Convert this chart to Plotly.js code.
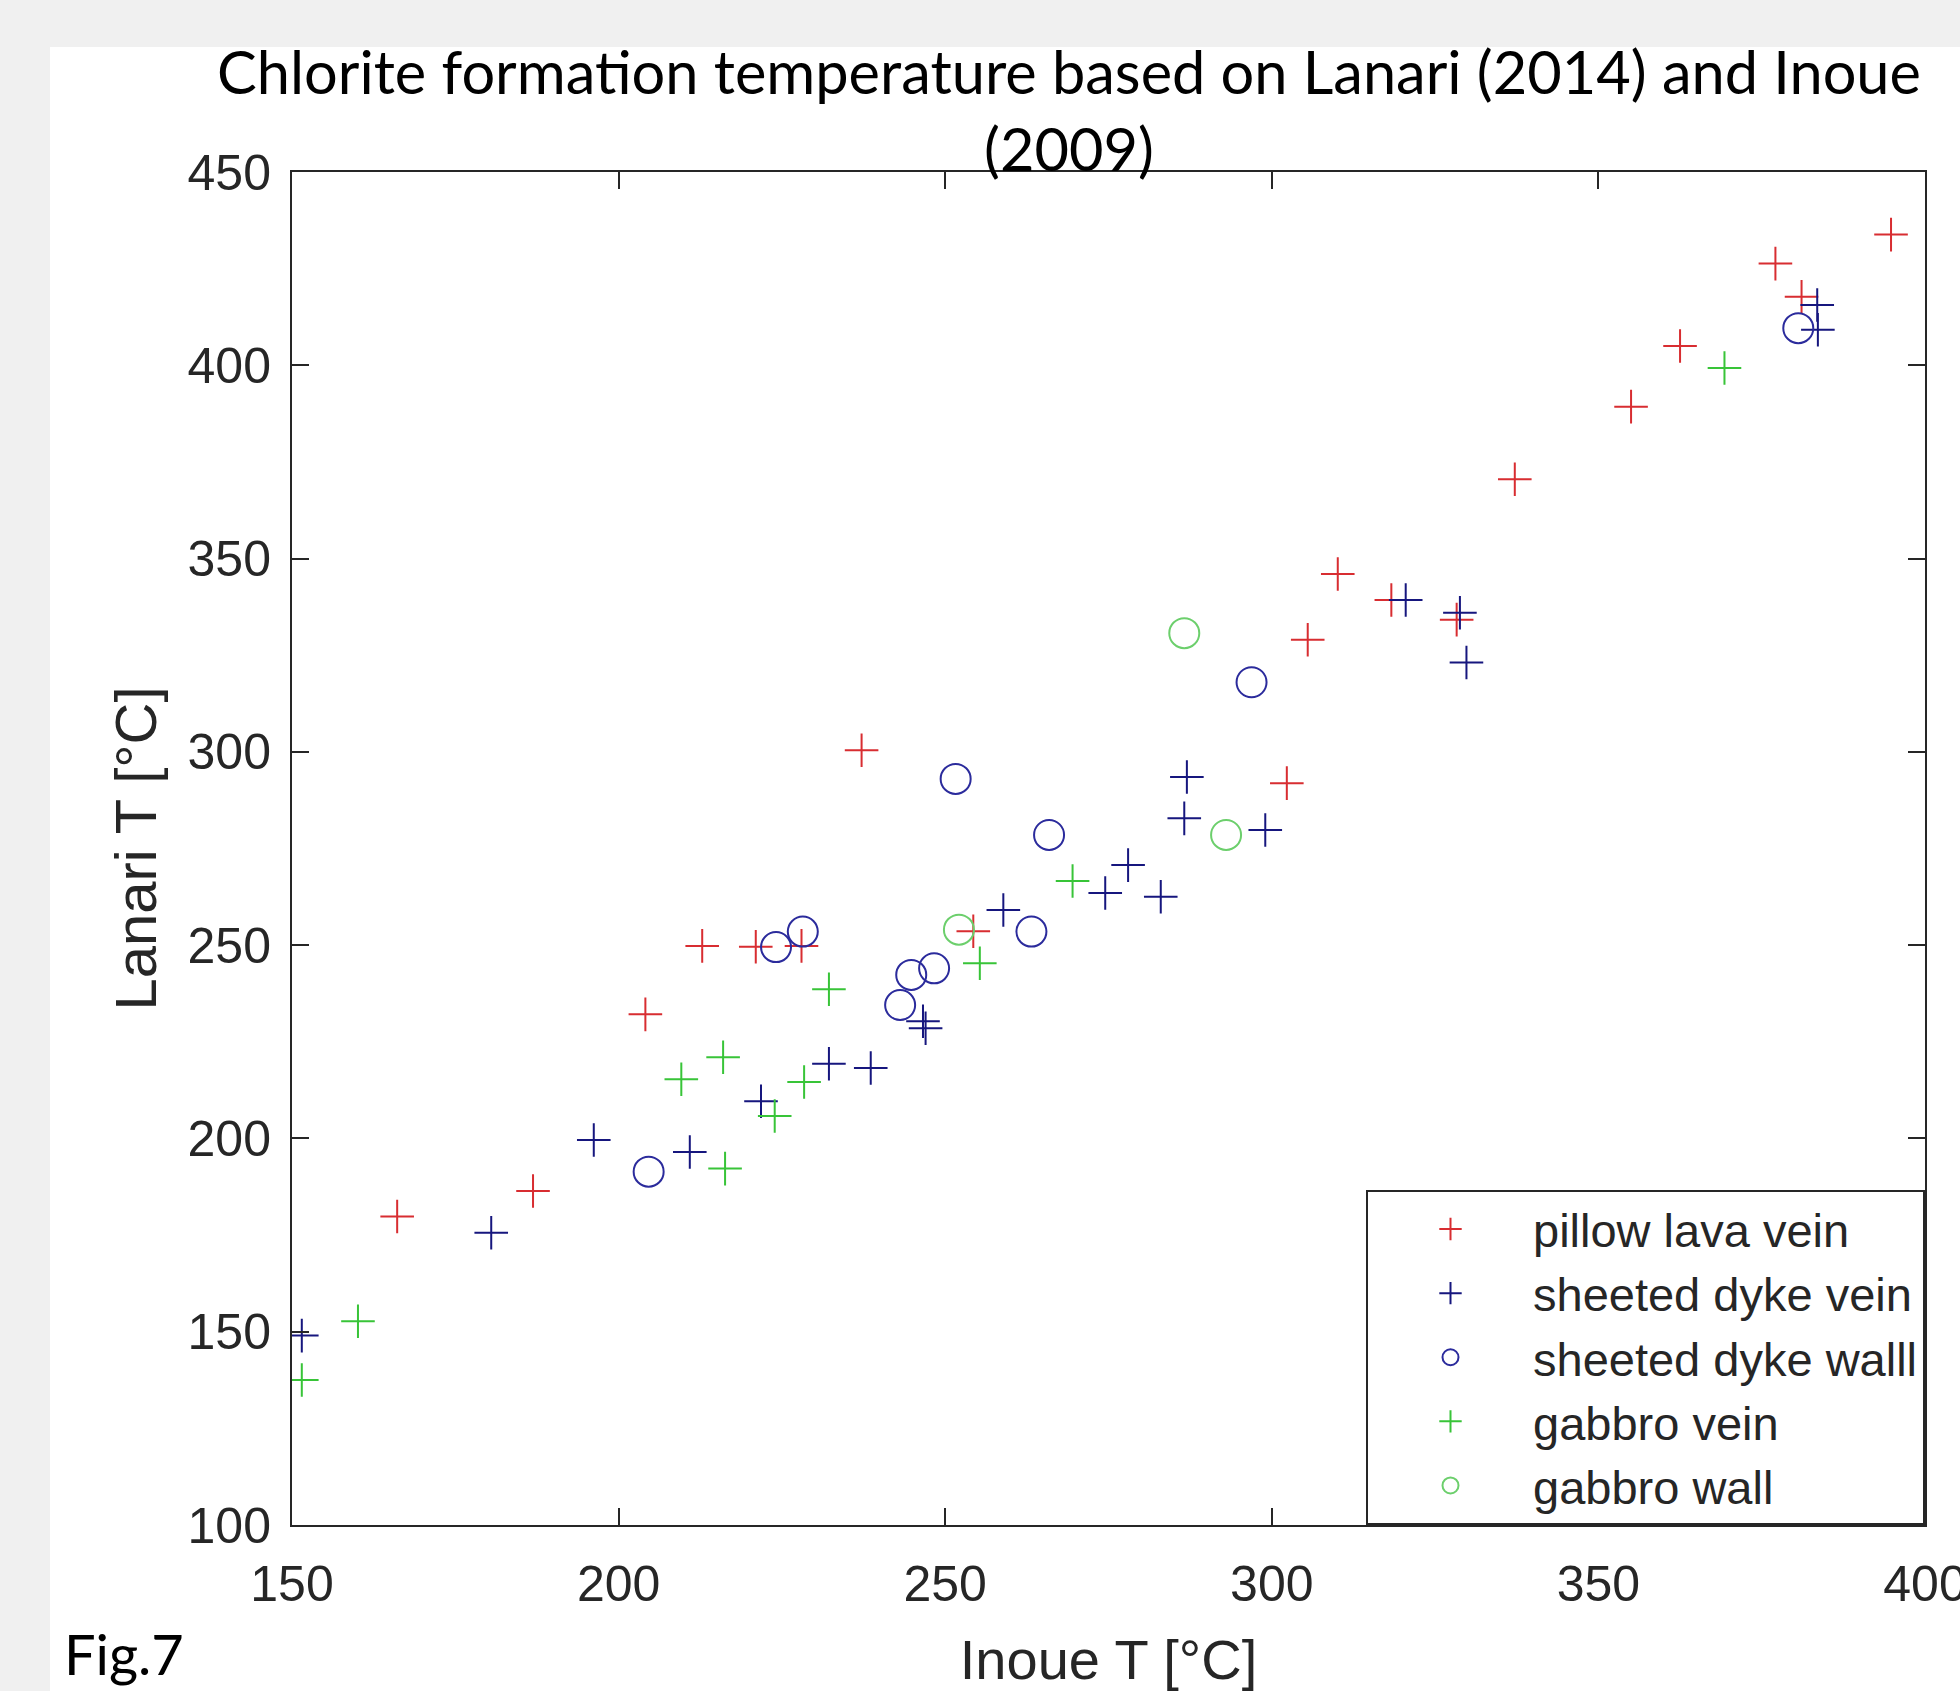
<!DOCTYPE html>
<html>
<head>
<meta charset="utf-8">
<script src="https://cdn.plot.ly/plotly-3.0.1.min.js"></script>
<style>
html,body{margin:0;padding:0;background:#f0f0f0;}
#chart{width:1960px;height:1691px;}
</style>
</head>
<body>
<div id="chart"></div>
<script>
// ---- data (Inoue T vs Lanari T, °C) ----
const seriesNames = ["pillow lava vein", "sheeted dyke vein", "sheeted dyke walll", "gabbro vein", "gabbro wall"];

const pillowLavaVeinX = [166.1, 186.9, 204.1, 212.8, 221.0, 228.0, 237.2, 254.3, 302.3, 305.5, 310.1, 318.3, 328.3, 337.2, 355.0, 362.5, 377.1, 381.1, 394.8];
const pillowLavaVeinY = [179.8, 186.4, 232.1, 249.8, 249.6, 249.8, 300.4, 253.6, 291.9, 329.0, 346.0, 339.3, 334.2, 370.5, 389.3, 405.0, 426.3, 417.7, 433.8];

const dykeVeinX = [151.5, 180.5, 196.2, 210.9, 221.8, 232.2, 238.6, 246.6, 247.0, 258.9, 274.5, 278.0, 283.0, 286.6, 287.0, 299.0, 320.5, 328.8, 329.8, 383.5, 383.6];
const dykeVeinY = [149.0, 175.6, 199.6, 196.5, 209.6, 219.3, 218.2, 230.3, 228.5, 259.1, 263.5, 270.7, 262.5, 282.8, 293.5, 279.8, 339.3, 336.0, 323.1, 415.6, 409.2];

const dykeWallX = [204.6, 224.1, 228.2, 243.1, 244.8, 248.3, 251.6, 263.2, 265.9, 296.9, 380.6];
const dykeWallY = [191.4, 249.5, 253.5, 234.5, 242.3, 244.0, 293.0, 253.5, 278.5, 318.0, 409.6];

const gabbroVeinX = [151.5, 160.1, 209.6, 216.0, 216.3, 223.9, 228.4, 232.2, 255.3, 269.5, 369.3];
const gabbroVeinY = [137.5, 152.7, 215.3, 221.0, 192.2, 205.8, 214.6, 238.6, 245.3, 266.6, 399.3];

const gabbroWallX = [252.1, 286.6, 293.0];
const gabbroWallY = [254.0, 330.7, 278.5];

const xTicks = [150, 200, 250, 300, 350, 400];
const yTicks = [100, 150, 200, 250, 300, 350, 400, 450];

const titleText = "Chlorite formation temperature based on Lanari (2014) and Inoue<br>(2009)";
const xTitle = "Inoue T [°C]";
const yTitle = "Lanari T [°C]";
const figLabel = "Fig.7";

// ---- styles ----
const axisColor = "#262626";
const tickFont = {family: "Liberation Sans, Arial, sans-serif", size: 50, color: axisColor};
const titleFontFamily = "Lato, 'Open Sans', sans-serif";

function crossTrace(x, y, name, color) {
  return {
    type: "scatter", mode: "markers", x: x, y: y, name: name,
    marker: {symbol: "cross-thin-open", size: 24, color: color, line: {color: color, width: 2}},
    hoverinfo: "x+y"
  };
}
function circleTrace(x, y, name, color) {
  return {
    type: "scatter", mode: "markers", x: x, y: y, name: name,
    marker: {symbol: "circle-open", size: 30, color: color, line: {color: color, width: 2}},
    hoverinfo: "x+y"
  };
}

const traces = [
  crossTrace(pillowLavaVeinX, pillowLavaVeinY, seriesNames[0], "#d82d31"),
  crossTrace(dykeVeinX, dykeVeinY, seriesNames[1], "#16167e"),
  circleTrace(dykeWallX, dykeWallY, seriesNames[2], "#2b2b9c"),
  crossTrace(gabbroVeinX, gabbroVeinY, seriesNames[3], "#38c438"),
  circleTrace(gabbroWallX, gabbroWallY, seriesNames[4], "#6ccf6c")
];

const W = 1960, H = 1691;
const L = 292, R = 35, T = 172, B = 166;
const pw = W - L - R, ph = H - T - B;

const layout = {
  width: W, height: H,
  paper_bgcolor: "#f0f0f0",
  plot_bgcolor: "white",
  margin: {l: L, r: R, t: T, b: B, pad: 0},
  showlegend: true,
  title: {
    text: titleText,
    font: {family: titleFontFamily, size: 59.5, color: "#000"},
    xref: "container", x: 1069 / W, xanchor: "center",
    yref: "container", y: 1 - 94 / H, yanchor: "top",
    pad: {t: 0, b: 0, l: 0, r: 0}
  },
  xaxis: {
    range: [150, 400],
    tickvals: xTicks,
    ticktext: xTicks.map(String),
    ticks: "inside", ticklen: 17, tickwidth: 1.5, tickcolor: axisColor,
    showline: true, linewidth: 2, linecolor: axisColor, mirror: "ticks",
    showgrid: false, zeroline: false,
    tickfont: tickFont,
    ticklabelstandoff: 14,
    ticklabeloverflow: "allow",
    title: {text: xTitle, font: {family: "Liberation Sans, Arial, sans-serif", size: 56, color: axisColor}, standoff: 32},
    automargin: false
  },
  yaxis: {
    range: [100, 450],
    tickvals: yTicks,
    ticktext: yTicks.map(String),
    ticks: "inside", ticklen: 17, tickwidth: 1.5, tickcolor: axisColor,
    showline: true, linewidth: 2, linecolor: axisColor, mirror: "ticks",
    showgrid: false, zeroline: false,
    tickfont: tickFont,
    ticklabelstandoff: 9,
    ticklabeloverflow: "allow",
    title: {text: yTitle, font: {family: "Liberation Sans, Arial, sans-serif", size: 58, color: axisColor}, standoff: 12},
    automargin: false
  },
  legend: {
    x: 1, xanchor: "right", y: 0, yanchor: "bottom",
    bgcolor: "white", bordercolor: axisColor, borderwidth: 2,
    font: {family: "Liberation Sans, Arial, sans-serif", size: 47, color: axisColor},
    itemwidth: 155,
    tracegroupgap: 0
  },
  shapes: [{
    type: "rect", xref: "paper", yref: "paper", layer: "below",
    x0: (50 - L) / pw, x1: (W + 10 - L) / pw,
    y0: (T + ph - (H + 10)) / ph, y1: (T + ph - 47) / ph,
    fillcolor: "white", line: {width: 0}
  }],
  annotations: [{
    text: figLabel, xref: "paper", yref: "paper",
    x: (62 - L) / pw, xanchor: "left",
    y: (T + ph - 1654) / ph, yanchor: "middle",
    showarrow: false,
    font: {family: titleFontFamily, size: 56, color: "#000"}
  }]
};

Plotly.newPlot("chart", traces, layout, {displayModeBar: false, responsive: false});
</script>
</body>
</html>
